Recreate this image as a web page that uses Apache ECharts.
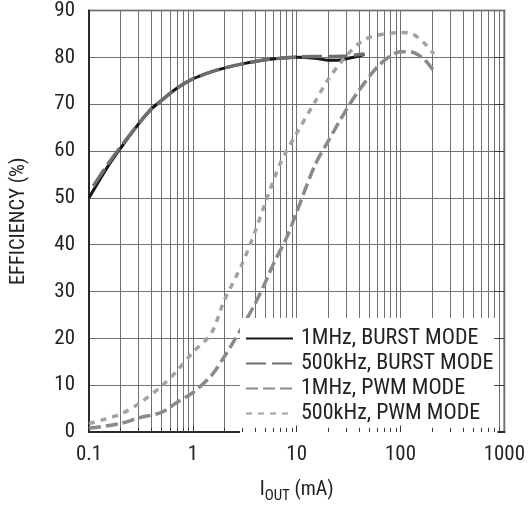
<!DOCTYPE html>
<html>
<head>
<meta charset="utf-8">
<script src="https://cdn.jsdelivr.net/npm/echarts@6/dist/echarts.min.js"></script>
<style>
html,body{margin:0;padding:0;background:#fff;}
#chart{width:528px;height:521px;}
</style>
</head>
<body>
<div id="chart"></div>
<script>
// ---- data ----
const seriesNames = ['1MHz, BURST MODE', '500kHz, BURST MODE', '1MHz, PWM MODE', '500kHz, PWM MODE'];

const burst1M_x = [0.1, 0.15, 0.2, 0.3, 0.4, 0.5, 0.7, 1, 1.5, 2, 3, 5, 7, 10, 15, 20, 25, 30, 40, 45];
const burst1M_y = [50, 56.5, 60.5, 65.8, 69, 70.8, 73.4, 75.4, 76.9, 77.7, 78.6, 79.5, 79.8, 80, 79.8, 79.4, 79.4, 79.7, 80.3, 80.6];

const burst500k_x = [0.11, 0.15, 0.2, 0.3, 0.4, 0.5, 0.7, 1, 1.5, 2, 3, 5, 7, 10, 15, 20, 30, 45];
const burst500k_y = [52.5, 57, 60.8, 65.8, 69, 70.8, 73.4, 75.4, 76.9, 77.7, 78.6, 79.5, 79.8, 80.1, 80.2, 80.2, 80.3, 80.7];

const pwm1M_x = [0.1, 0.2, 0.3, 0.5, 0.7, 1, 1.5, 2, 2.5, 3, 4, 5, 6, 8, 10, 15, 20, 30, 40, 60, 80, 100, 130, 170, 210];
const pwm1M_y = [0.8, 1.8, 3, 4.2, 6.3, 8.4, 12, 16, 19.5, 22.5, 27.5, 32, 36, 41.5, 47, 57, 62, 68.8, 73, 78, 80.3, 81.2, 81.1, 79.5, 77];

const pwm500k_x = [0.1, 0.2, 0.3, 0.5, 0.7, 1, 1.5, 2, 3, 4, 5, 7, 10, 15, 20, 30, 45, 70, 100, 130, 170, 210];
const pwm500k_y = [1.8, 3.8, 6, 9.8, 13, 17, 21, 28, 36, 43, 49, 57.5, 63.8, 70.5, 75.2, 80.3, 83.8, 85, 85.3, 85, 83, 80.7];

const minorX = [0.2,0.3,0.4,0.5,0.6,0.7,0.8,0.9,2,3,4,5,6,7,8,9,20,30,40,50,60,70,80,90,200,300,400,500,600,700,800,900];
const majorX = [1, 10, 100];
const yTicks = [10, 20, 30, 40, 50, 60, 70, 80];

// ---- font selection (pick a narrow face if one is installed) ----
const ctx = document.createElement('canvas').getContext('2d');
function widthOf(str, family, size) { ctx.font = size + 'px ' + family; return ctx.measureText(str).width; }
function installed(name) {
  const s = '500kHz, BURST MODE 0123';
  return widthOf(s, "'" + name + "', monospace", 40) !== widthOf(s, 'monospace', 40);
}
let FONT = "Roboto, 'Liberation Sans', sans-serif";
for (const f of ['Liberation Sans Narrow', 'Roboto Condensed', 'Arial Narrow', 'Nimbus Sans Narrow']) {
  if (installed(f)) { FONT = "'" + f + "', Roboto, sans-serif"; break; }
}
function fitSize(str, targetW, maxSize) {
  const w = widthOf(str, FONT, 100) / 100;
  return Math.min(maxSize, Math.round(targetW / w * 1.03 * 10) / 10);
}
const TICK_SIZE = fitSize('1000', 40, 21.5);
const LEG_SIZE = fitSize('500kHz, BURST MODE', 201, 22);
const YNAME_SIZE = fitSize('EFFICIENCY (%)', 131, 20.5);
const XNAME_SIZE = fitSize('(mA)', 48, 20);

const TXT = '#222';
const GRID = '#6f6f6f';

function pairs(xs, ys) { return xs.map((x, i) => [x, ys[i]]); }

const chart = echarts.init(document.getElementById('chart'), null, {renderer: 'canvas'});

const option = {
  backgroundColor: '#fff',
  animation: false,
  grid: {
    left: 83, right: 23, top: 10, bottom: 89,
    show: true, borderColor: '#2a2a2a', borderWidth: 1.6, backgroundColor: 'transparent'
  },
  xAxis: {
    type: 'log', logBase: 10, min: 0.1, max: 1000,
    axisLine: {show: true, lineStyle: {color: '#2a2a2a', width: 2}},
    axisTick: {show: false},
    splitLine: {show: true, lineStyle: {color: GRID, width: 1}},
    axisLabel: {
      fontFamily: FONT, fontSize: TICK_SIZE, color: TXT, margin: 12,
      formatter: function (v) { return String(+v.toPrecision(6)); }
    },
    name: '{a|I}{b|OUT}{a| (mA)}',
    nameLocation: 'middle',
    nameGap: 44,
    nameTextStyle: {
      rich: {
        a: {fontFamily: FONT, fontSize: XNAME_SIZE, color: TXT},
        b: {fontFamily: FONT, fontSize: XNAME_SIZE * 0.75, color: TXT, padding: [13, 0, 0, 0]}
      }
    }
  },
  yAxis: {
    type: 'value', min: 0, max: 90, interval: 10,
    axisLine: {show: true, lineStyle: {color: '#2a2a2a', width: 2}},
    axisTick: {show: false},
    splitLine: {show: true, lineStyle: {color: GRID, width: 1}},
    axisLabel: {fontFamily: FONT, fontSize: TICK_SIZE, color: TXT, margin: 14},
    name: 'EFFICIENCY (%)',
    nameLocation: 'middle',
    nameGap: 60,
    nameTextStyle: {fontFamily: FONT, fontSize: YNAME_SIZE, color: TXT}
  },
  legend: {
    data: seriesNames,
    orient: 'vertical',
    left: 240, top: 318,
    padding: [8, 4, 11, 5],
    itemWidth: 47, itemHeight: 14, itemGap: 0,
    backgroundColor: '#fff',
    z: 4,
    itemStyle: {opacity: 0, borderWidth: 0},
    textStyle: {fontFamily: FONT, fontSize: LEG_SIZE, lineHeight: 25, color: TXT, padding: [0, 0, 0, 3]},
    selectedMode: false
  },
  series: [
    {
      name: 'minorGrid', type: 'line', data: [], z: 1, silent: true,
      markLine: {
        z: 1, silent: true, symbol: 'none', animation: false,
        label: {show: false},
        lineStyle: {color: GRID, width: 1, type: 'solid'},
        data: minorX.map(v => ({xAxis: v}))
      }
    },
    {
      name: seriesNames[0], type: 'line', smooth: 0.3, symbol: 'none', z: 2,
      lineStyle: {color: '#161616', width: 3, type: 'solid'},
      itemStyle: {color: '#161616'},
      data: pairs(burst1M_x, burst1M_y)
    },
    {
      name: seriesNames[1], type: 'line', smooth: 0.3, symbol: 'none', z: 3,
      lineStyle: {color: '#6e6e6e', width: 3.5, type: [20, 6]},
      itemStyle: {color: '#6e6e6e'},
      data: pairs(burst500k_x, burst500k_y)
    },
    {
      name: seriesNames[2], type: 'line', smooth: 0.3, symbol: 'none', z: 3,
      lineStyle: {color: '#8a8a8a', width: 3.5, type: [12, 5]},
      itemStyle: {color: '#8a8a8a'},
      data: pairs(pwm1M_x, pwm1M_y)
    },
    {
      name: seriesNames[3], type: 'line', smooth: 0.3, symbol: 'none', z: 3,
      lineStyle: {color: '#a2a2a2', width: 3.5, type: [6, 6]},
      itemStyle: {color: '#a2a2a2'},
      data: pairs(pwm500k_x, pwm500k_y)
    },
    {
      name: 'ticks', type: 'line', data: [], z: 6, silent: true,
      markLine: {
        z: 6, silent: true, symbol: 'none', animation: false,
        label: {show: false},
        lineStyle: {color: '#3a3a3a', width: 1, type: 'solid'},
        data: minorX.map(v => [{coord: [v, 0]}, {coord: [v, 0.9]}])
          .concat(majorX.map(v => [{coord: [v, 0]}, {coord: [v, 1.4]}]))
          .concat(yTicks.map(v => [{coord: [800, v]}, {coord: [1000, v]}]))
      }
    }
  ]
};
chart.setOption(option);
</script>
</body>
</html>
